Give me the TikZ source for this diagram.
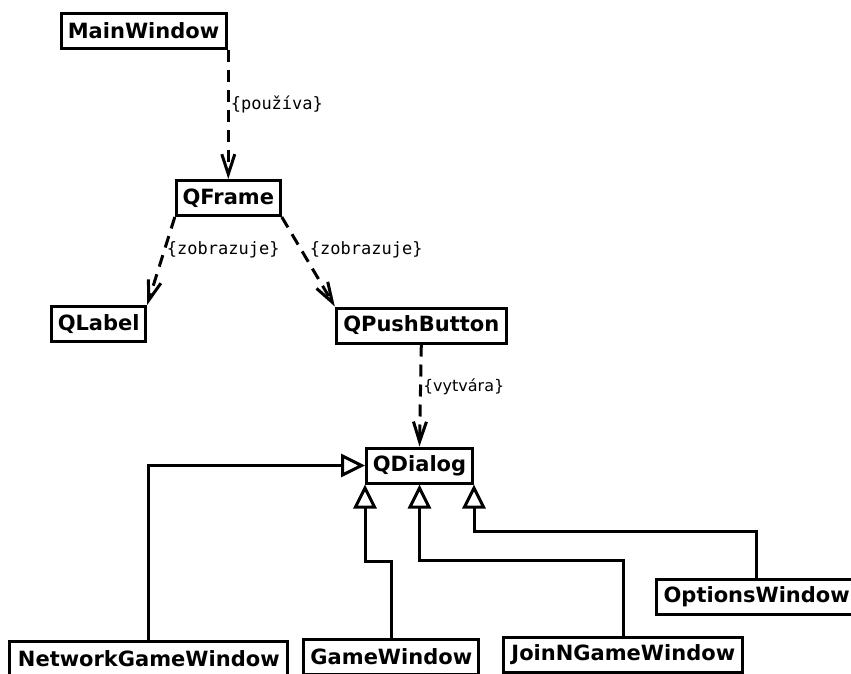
\documentclass[tikz,border=0pt]{standalone}
\usepackage{fontspec}
\setmainfont{DejaVu Sans}
\setmonofont{DejaVu Sans Mono}
\usetikzlibrary{arrows.meta}
\begin{document}
\begin{tikzpicture}[x=1pt,y=-1pt,
    box/.style={draw,line width=3pt,minimum height=35pt,inner xsep=4pt,
      font=\bfseries\fontsize{21pt}{25pt}\selectfont},
    dep/.style={line width=3pt,dash pattern=on 12pt off 8pt,
      -{Straight Barb[length=20pt,width=13pt]}},
    gen/.style={line width=3pt,-{Triangle[open,length=24pt,width=23pt]}},
    lbl/.style={anchor=west,inner sep=1pt,font=\ttfamily\fontsize{17pt}{20pt}\selectfont}]
      \useasboundingbox (0,0) rectangle (851,673);
      \draw
        (143.5,31) node[box,minimum width=165pt] (mainwindow){MainWindow}
        (228.3,198) node[box,minimum width=104pt] (qframe){QFrame}
        (98.7,324) node[box,minimum width=94pt] (qlabel){QLabel}
        (421.3,325.5) node[box,minimum width=170pt] (qpushbutton){QPushButton}
        (419.5,465.5) node[box,minimum width=106pt] (qdialog){QDialog}
        (148.8,659) node[box,minimum width=278pt] (networkgamewindow){NetworkGameWindow}
        (391.3,657) node[box,minimum width=175pt] (gamewindow){GameWindow}
        (623.3,655) node[box,minimum width=239pt] (joinngamewindow){JoinNGameWindow}
        (756.7,597) node[box,minimum width=200pt] (optionswindow){OptionsWindow};
      \begin{scope}[dep]
        \draw (qframe.north |- mainwindow.south) to
          node[lbl,pos=.42] (pouziva){\{používa\}} (qframe.north);
        \draw (qframe.south west) to
          node[lbl,pos=.375] (zobrazuje1){\{zobrazuje\}} (qlabel.north east);
        \draw (qframe.south east) to
          node[lbl,pos=.37,xshift=6pt] (zobrazuje2){\{zobrazuje\}} (qpushbutton.north west);
        \draw (qpushbutton.south) to
          node[lbl,pos=.41,font=\fontsize{16pt}{19pt}\selectfont] (vytvara){\{vytvára\}} (qdialog.north);
      \end{scope}
      \begin{scope}[gen]
        \draw (networkgamewindow.north) |- (qdialog.west);
        \draw (gamewindow.north) -- ++(0,-77) -| (qdialog.south west);
        \draw (joinngamewindow.north) -- ++(0,-76) -| (qdialog.south);
        \draw (optionswindow.north) -- ++(0,-47) -| (qdialog.south east);
      \end{scope}
    \end{tikzpicture}
\end{document}
